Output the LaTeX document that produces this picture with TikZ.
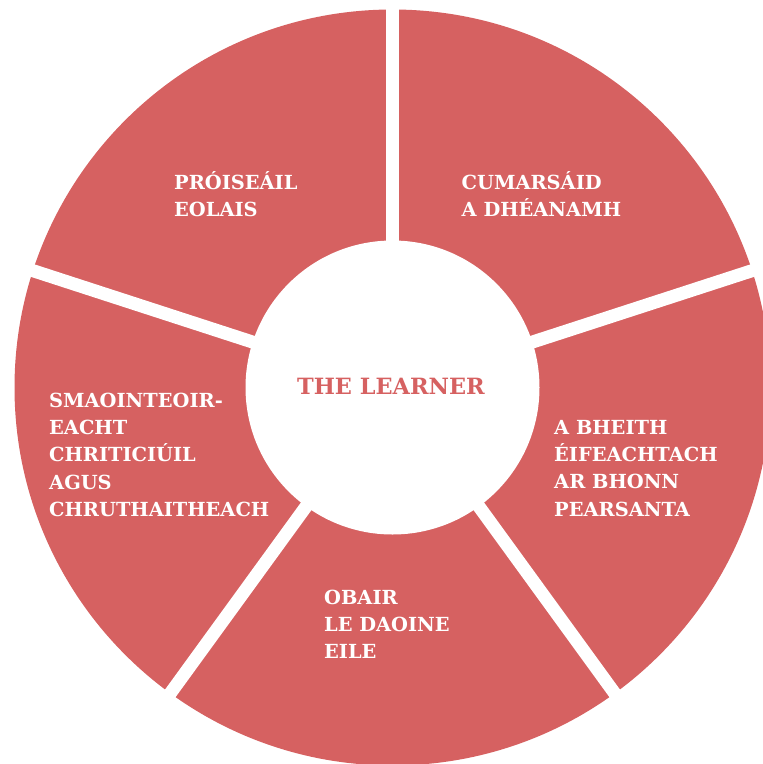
\documentclass[tikz,border=0pt]{standalone}
\usepackage{fontspec}
\setmainfont{DejaVu Serif}
\definecolor{wheelred}{RGB}{214,97,97}
\begin{document}
\begin{tikzpicture}[x=1pt,y=-1pt,
  seglabel/.style={anchor=base west,inner sep=0pt,text=white,
    font=\bfseries\fontsize{19.4}{27.2}\selectfont},
  gapline/.style={draw=white,line width=13pt}]
\useasboundingbox (0,0) rectangle (763,764);
\begin{scope}
\clip (0,0) rectangle (763,764);
\coordinate (c) at (392.5,387.5);
\fill[wheelred] (c) circle[radius=378];
\foreach \a in {90,18,-54,-126,162}
  \draw[gapline] (c) -- ++(-\a:400);
\fill[white] (c) circle[radius=147];
\end{scope}
\node[inner sep=0pt,anchor=base,text=wheelred,font=\bfseries\fontsize{22.4}{27}\selectfont] (learner) at (391,394.3) {THE LEARNER};
\node[seglabel] (proc) at (174,189.3) {\begin{tabular}[t]{@{}l@{}}PRÓISEÁIL\\EOLAIS\end{tabular}};
\node[seglabel] (cum) at (461.5,189.3) {\begin{tabular}[t]{@{}l@{}}CUMARSÁID\\A DHÉANAMH\end{tabular}};
\node[seglabel] (smao) at (49,407.5) {\begin{tabular}[t]{@{}l@{}}SMAOINTEOIR-\\EACHT\\CHRITICIÚIL\\AGUS\\CHRUTHAITHEACH\end{tabular}};
\node[seglabel] (bheith) at (554,434.5) {\begin{tabular}[t]{@{}l@{}}A BHEITH\\ÉIFEACHTACH\\AR BHONN\\PEARSANTA\end{tabular}};
\node[seglabel] (obair) at (324,604) {\begin{tabular}[t]{@{}l@{}}OBAIR\\LE DAOINE\\EILE\end{tabular}};
\end{tikzpicture}
\end{document}
